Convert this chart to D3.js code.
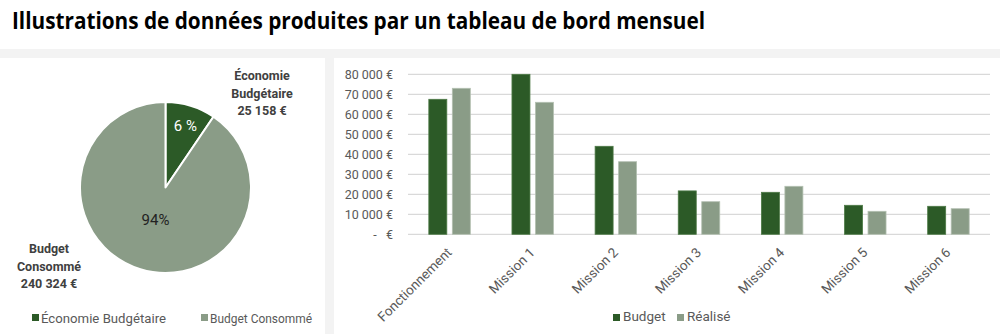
<!DOCTYPE html>
<html><head><meta charset="utf-8">
<script src="https://cdn.jsdelivr.net/npm/d3@7"></script>
<style>
html,body{margin:0;padding:0;background:#fff;}
svg{display:block;}
</style></head>
<body>
<svg id="c" width="1000" height="334"></svg>
<script>
const title = "Illustrations de données produites par un tableau de bord mensuel";
const pieLabels = ["Économie Budgétaire", "Budget Consommé"];
const pieValues = [25158, 240324];
const piePctText = ["6 %", "94%"];
const pieOuter = [["Économie", "Budgétaire", "25 158 €"], ["Budget", "Consommé", "240 324 €"]];
const categories = ["Fonctionnement", "Mission 1", "Mission 2", "Mission 3", "Mission 4", "Mission 5", "Mission 6"];
const budget = [67500, 80000, 44000, 21700, 21000, 14500, 14000];
const realise = [73000, 66000, 36300, 16300, 24000, 11500, 12800];
const seriesNames = ["Budget", "Réalisé"];
const yTicks = [0, 10000, 20000, 30000, 40000, 50000, 60000, 70000, 80000];

const dark = "#2c5a27", light = "#8a9c87";
const txt = "#595959";
const font = "Roboto, 'Noto Sans', sans-serif";

const svg = d3.select("#c");
// backgrounds
svg.append("rect").attr("x",0).attr("y",0).attr("width",1000).attr("height",334).attr("fill","#fff");
svg.append("rect").attr("x",0).attr("y",49).attr("width",1000).attr("height",9).attr("fill","#f3f3f3");
svg.append("rect").attr("x",325).attr("y",49).attr("width",9).attr("height",285).attr("fill","#f3f3f3");

// title
svg.append("text").attr("x",12).attr("y",29)
  .attr("font-family","'Open Sans', 'DejaVu Sans', sans-serif").attr("font-weight","bold")
  .attr("font-size",23).attr("fill","#000")
  .attr("textLength",693).attr("lengthAdjust","spacingAndGlyphs")
  .text(title);

// ---- Pie ----
const cx = 165.5, cy = 187.5, R = 85.5;
const pie = d3.pie().sort(null).value(d => d)(pieValues);
const arc = d3.arc().innerRadius(0).outerRadius(R);
const gp = svg.append("g").attr("transform",`translate(${cx},${cy})`);
gp.selectAll("path").data(pie).enter().append("path")
  .attr("d",arc).attr("fill",(d,i)=> i===0?dark:light)
  .attr("stroke","#fff").attr("stroke-width",2).attr("stroke-linejoin","round");
// inner percent labels
const inArc0 = d3.arc().innerRadius(R*0.75).outerRadius(R*0.75);
const c0 = inArc0.centroid(pie[0]);
gp.append("text").attr("x",c0[0]+1).attr("y",c0[1]+5).attr("text-anchor","middle")
  .attr("font-family",font).attr("font-size",15).attr("fill","#fff").text(piePctText[0]);
const inArc1 = d3.arc().innerRadius(R*0.4).outerRadius(R*0.4);
const c1 = inArc1.centroid(pie[1]);
gp.append("text").attr("x",c1[0]).attr("y",c1[1]+5).attr("text-anchor","middle")
  .attr("font-family",font).attr("font-size",15).attr("fill","#222").text(piePctText[1]);
// outer labels
const outerPos = [[262, 80], [49, 253]];
pieOuter.forEach((lines,i)=>{
  const t = svg.append("text").attr("text-anchor","middle")
    .attr("font-family",font).attr("font-weight","bold").attr("font-size",12.5).attr("fill","#404040");
  lines.forEach((l,j)=> t.append("tspan").attr("x",outerPos[i][0]).attr("y",outerPos[i][1]+j*17.5).text(l));
});
// pie legend
const lgP = [[32, 41, 125], [201, 210, 102]];
pieLabels.forEach((l,i)=>{
  svg.append("rect").attr("x",lgP[i][0]).attr("y",314).attr("width",7).attr("height",7).attr("fill",i===0?dark:light);
  svg.append("text").attr("x",lgP[i][1]).attr("y",322.5).attr("font-family",font).attr("font-size",13.5)
    .attr("fill",txt).attr("textLength",lgP[i][2]).attr("lengthAdjust","spacingAndGlyphs").text(l);
});

// ---- Bar chart ----
const x0 = 408, x1 = 990, yTop = 74.3, yBot = 234.3;
const x = d3.scaleBand().domain(categories).range([x0,x1]).paddingInner(0).paddingOuter(0);
const y = d3.scaleLinear().domain([0,80000]).range([yBot,yTop]);
const gb = svg.append("g");
// grid
gb.selectAll("line.grid").data(yTicks).enter().append("line")
  .attr("x1",x0).attr("x2",x1).attr("y1",d=>y(d)).attr("y2",d=>y(d))
  .attr("stroke",(d)=> "#d9d9d9").attr("stroke-width",1.2);
// y axis via d3.axisLeft
const fmt = d => d===0 ? "-\u00a0\u00a0\u00a0€" : d3.format(",")(d).replace(/,/g," ") + " €";
const ya = svg.append("g").attr("transform",`translate(${393},0)`)
  .call(d3.axisLeft(y).tickValues(yTicks).tickSize(0).tickPadding(0).tickFormat(fmt));
ya.select(".domain").remove();
ya.selectAll("text").attr("font-family",font).attr("font-size",12.5).attr("fill",txt);

// bars
const bw = 18, gap = 5.5;
const series = [budget, realise];
series.forEach((vals,s)=>{
  gb.selectAll(null).data(vals).enter().append("rect")
    .attr("x",(d,i)=> x(categories[i]) + x.bandwidth()/2 + (s===0 ? -gap/2-bw : gap/2))
    .attr("y",d=>y(d)).attr("width",bw).attr("height",d=>yBot-y(d))
    .attr("fill",s===0?dark:light).attr("stroke",s===0?"#4d7a46":"#b3c0b1").attr("stroke-width",0.8);
});
// x axis labels
const xa = svg.append("g").attr("transform",`translate(0,${yBot})`)
  .call(d3.axisBottom(x).tickSize(0).tickPadding(0));
xa.select(".domain").remove();
xa.selectAll("text").attr("font-family",font).attr("font-size",13.5).attr("fill",txt)
  .attr("text-anchor","end").attr("dy",0)
  .attr("transform","translate(3,19) rotate(-45)");

// bar legend
const lgB = [[613, 623], [677, 687]];
seriesNames.forEach((l,i)=>{
  svg.append("rect").attr("x",lgB[i][0]).attr("y",314).attr("width",7).attr("height",7).attr("fill",i===0?dark:light);
  svg.append("text").attr("x",lgB[i][1]).attr("y",321).attr("font-family",font).attr("font-size",13.5)
    .attr("fill",txt).text(l);
});
</script>
</body></html>
